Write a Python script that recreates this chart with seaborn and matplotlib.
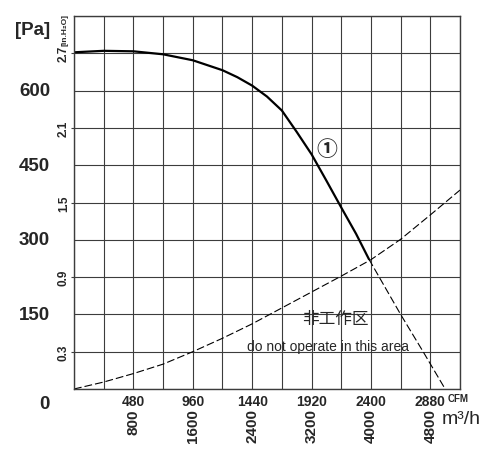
import matplotlib
matplotlib.use('Agg')
import numpy as np
import matplotlib.pyplot as plt
import seaborn as sns
from matplotlib.transforms import ScaledTranslation

# fan curve 1 (airflow in CFM, static pressure in Pa)
fan_cfm = [0, 240, 480, 720, 960, 1200, 1320, 1440, 1560, 1680, 1800, 1920, 2040, 2160, 2280, 2384]
fan_pa = [677, 680, 679, 673, 661, 641, 627, 610, 588, 560, 517, 472, 419, 365, 312, 261]

# continuation of the fan curve past the system curve (dashed)
ext_cfm = [2384, 2640, 2822, 3000]
ext_pa = [261, 150, 75, 0]

# system resistance curve (dashed)
sys_cfm = [0, 240, 480, 720, 960, 1200, 1440, 1680, 1920, 2160, 2400, 2640, 2880, 3120]
sys_pa = [0, 14, 31, 50, 75, 102, 131, 163, 195, 227, 260, 301, 350, 400]

cfm_ticks = [480, 960, 1440, 1920, 2400, 2880]
m3h_ticks = [800, 1600, 2400, 3200, 4000, 4800]
pa_ticks = [0, 150, 300, 450, 600]
inh2o_ticks = [0.3, 0.9, 1.5, 2.1, 2.7]

x_max = 3120
y_max = 750
x_step = 240
y_step = 75

sns.set_style('white')
plt.rcParams['font.family'] = ['Liberation Sans', 'DejaVu Sans']

grid_color = '#3c3c3c'

fig = plt.figure(figsize=(5, 4.56), dpi=100)
ax = fig.add_axes([74 / 500, 66 / 456, 386 / 500, 373 / 456])

sns.lineplot(x=sys_cfm, y=sys_pa, ax=ax, color='black', lw=0.8,
             linestyle=(0, (7, 2.7)), sort=False)
sns.lineplot(x=ext_cfm, y=ext_pa, ax=ax, color='black', lw=0.8,
             linestyle=(0, (7, 2.7)), sort=False)
sns.lineplot(x=fan_cfm, y=fan_pa, ax=ax, color='black', lw=1.6, sort=False)

ax.set_xlim(0, x_max)
ax.set_ylim(0, y_max)

# grid: one cell per 240 CFM and 75 Pa
ax.set_xticks(np.arange(0, x_max + 1, x_step), minor=True)
ax.set_xticks(cfm_ticks)
ax.set_xticklabels([str(v) for v in cfm_ticks], fontsize=10, fontweight='bold')
ax.set_yticks(np.arange(0, y_max + 1, y_step))
ax.set_yticklabels([])
ax.grid(True, which='both', color=grid_color, lw=0.8)
ax.tick_params(axis='x', which='major', length=3, width=0.8, color=grid_color, pad=0.5)
ax.tick_params(axis='x', which='minor', length=0)
ax.tick_params(axis='y', length=0)
ax.set_axisbelow(True)
for s in ax.spines.values():
    s.set_visible(True)
    s.set_color(grid_color)
    s.set_linewidth(1.0)

# Pa labels, large, left of the in.H2O scale
ytrans = ax.get_yaxis_transform()
for v in pa_ticks:
    t = ytrans
    if v == 0:
        t = ytrans + ScaledTranslation(0, -0.15, fig.dpi_scale_trans)
    ax.text(-0.062, v, str(v), transform=t, ha='right', va='center',
            fontsize=13.5, fontweight='bold')
ax.text(-0.062, 722, '[Pa]', transform=ytrans, ha='right', va='center',
        fontsize=13.5, fontweight='bold')

# in.H2O scale
sec_y = ax.secondary_yaxis('left', functions=(lambda p: p * 0.3 / 75, lambda h: h * 75 / 0.3))
sec_y.set_yticks(inh2o_ticks)
sec_y.set_yticklabels([f'{v:.1f}' for v in inh2o_ticks], rotation=90, va='center',
                      fontsize=8.5, fontweight='bold')
sec_y.tick_params(length=2, width=0.8, color=grid_color, pad=1)
sec_y.spines['left'].set_visible(False)
ax.text(-0.024, 724, '[in.H\u2082O]', transform=ytrans, ha='center', va='center',
        rotation=90, fontsize=6, fontweight='bold')

# m3/h scale under the CFM scale
sec_x = ax.secondary_xaxis('bottom', functions=(lambda c: c * 5 / 3, lambda m: m * 3 / 5))
sec_x.set_xticks(m3h_ticks)
sec_x.set_xticklabels([str(v) for v in m3h_ticks], rotation=90, fontsize=11, fontweight='bold')
sec_x.tick_params(length=0, pad=14)
sec_x.spines['bottom'].set_visible(False)

xtrans = ax.get_xaxis_transform()
ax.text(3020, -0.024, 'CFM', transform=xtrans, ha='left', va='center', fontsize=7,
        fontweight='bold')
ax.text(3127, -0.078, 'm\u00b3/h', transform=xtrans, ha='center', va='center', fontsize=14)

# annotations
ax.text(2047, 483, '\u2460', ha='center', va='center', fontsize=15, fontweight='bold',
        family=['Noto Sans CJK SC', 'DejaVu Sans'])
ax.text(2109, 141, '非工作区', ha='center', va='center', fontsize=12,
        family=['Noto Sans CJK SC', 'DejaVu Sans'])
ax.text(2053, 86, 'do not operate in this area', ha='center', va='center', fontsize=10)

fig.savefig('out.png', dpi=100)
